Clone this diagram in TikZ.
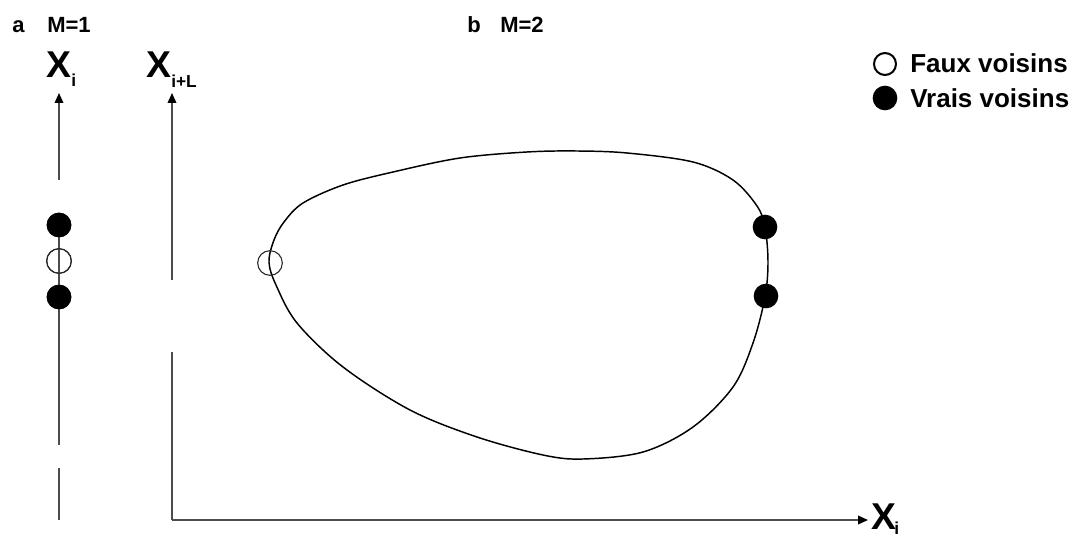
\documentclass[tikz,border=0pt]{standalone}
\usepackage{fontspec}
\setmainfont{Liberation Sans}
\usetikzlibrary{arrows.meta}
\begin{document}
\begin{tikzpicture}[x=0.75pt,y=-0.75pt,
 lbl/.style={font=\fontsize{16.5}{19}\selectfont\bfseries, inner sep=0, anchor=base west},
 bigx/.style={font=\fontsize{28}{32}\selectfont\bfseries, inner sep=0, anchor=base west},
 subx/.style={font=\fontsize{13}{15}\selectfont\bfseries, inner sep=0, anchor=base west},
 leg/.style={font=\fontsize{19.5}{22}\selectfont\bfseries, inner sep=0, anchor=base west},
 axis/.style={draw=black!70, line width=1.1pt},
 tip/.style={-{Triangle[length=7.5pt,width=6.5pt,color=black]}},
 full/.style={circle, fill=black, minimum size=18.5pt, inner sep=0},
 hollow/.style={circle, draw=black!85, line width=0.8pt, minimum size=18.5pt, inner sep=0},
 legfull/.style={circle, fill=black, minimum size=18.5pt, inner sep=0},
 leghollow/.style={circle, draw=black, line width=1.5pt, minimum size=16.5pt, inner sep=0},
 curvestyle/.style={draw=black, line width=1.1pt}]
\useasboundingbox (0,0) rectangle (1074,538);
% titles
\node[lbl] (ta) at (12,33) {a};
\node[lbl] (tm1) at (47,33) {M=1};
\node[lbl] (tb) at (467,33) {b};
\node[lbl] (tm2) at (500,33) {M=2};
% axis labels
\node[bigx] (xl) at (46,78) {X};
\node[subx] (xlsub) at (71,87) {i};
\node[bigx] (xr) at (146,78) {X};
\node[subx] (xrsub) at (171,88) {i+L};
\node[bigx] (xb) at (871,529) {X};
\node[subx] (xbsub) at (894,534) {i};
% left axis (panel a)
\coordinate (la0) at (59,520);
\coordinate (la1) at (59,468);
\coordinate (la2) at (59,445);
\coordinate (la3) at (59,180);
\coordinate (latip) at (59,93);
\node[full] (d1) at (59,225) {};
\node[hollow] (d2) at (59,261) {};
\node[full] (d3) at (59,297) {};
\draw[axis] (la0) -- (la1);
\draw[axis] (la2) -- (d3.center) -- (d1.center);
\draw[axis,tip] (la3) -- (latip);
\node[full] at (d1) {};
\node[hollow] at (d2) {};
\node[full] at (d3) {};
% right axes (panel b)
\coordinate (o) at (172,520);
\coordinate (ra1) at (172,352);
\coordinate (ra2) at (172,280);
\coordinate (ratip) at (172,93);
\coordinate (hatip) at (868,520);
\draw[axis] (ra1) -- (o);
\draw[axis,tip] (o) -- (hatip);
\draw[axis,tip] (ra2) -- (ratip);
% curve
\draw[curvestyle] plot[smooth cycle, tension=0.55] coordinates {
 (269,262) (274,240) (284,222) (303,203) (343,185) (393,172) (460,158)
 (527,152) (577,151) (627,153) (693,162) (733,180) (757,206) (765,227)
 (768,262) (765,297) (753,343) (733,387) (693,427) (643,452) (583,459)
 (543,455) (477,437) (410,410) (343,367) (297,323) (276,285)};
\node[hollow] (c1) at (270,263) {};
\node[full] (c2) at (765,227) {};
\node[full] (c3) at (766,296) {};
% legend
\node[leghollow] (l1) at (885,64) {};
\node[leg] (l1t) at (910,73) {Faux voisins};
\node[legfull] (l2) at (885,98) {};
\node[leg] (l2t) at (910,108) {Vrais voisins};
\end{tikzpicture}
\end{document}
